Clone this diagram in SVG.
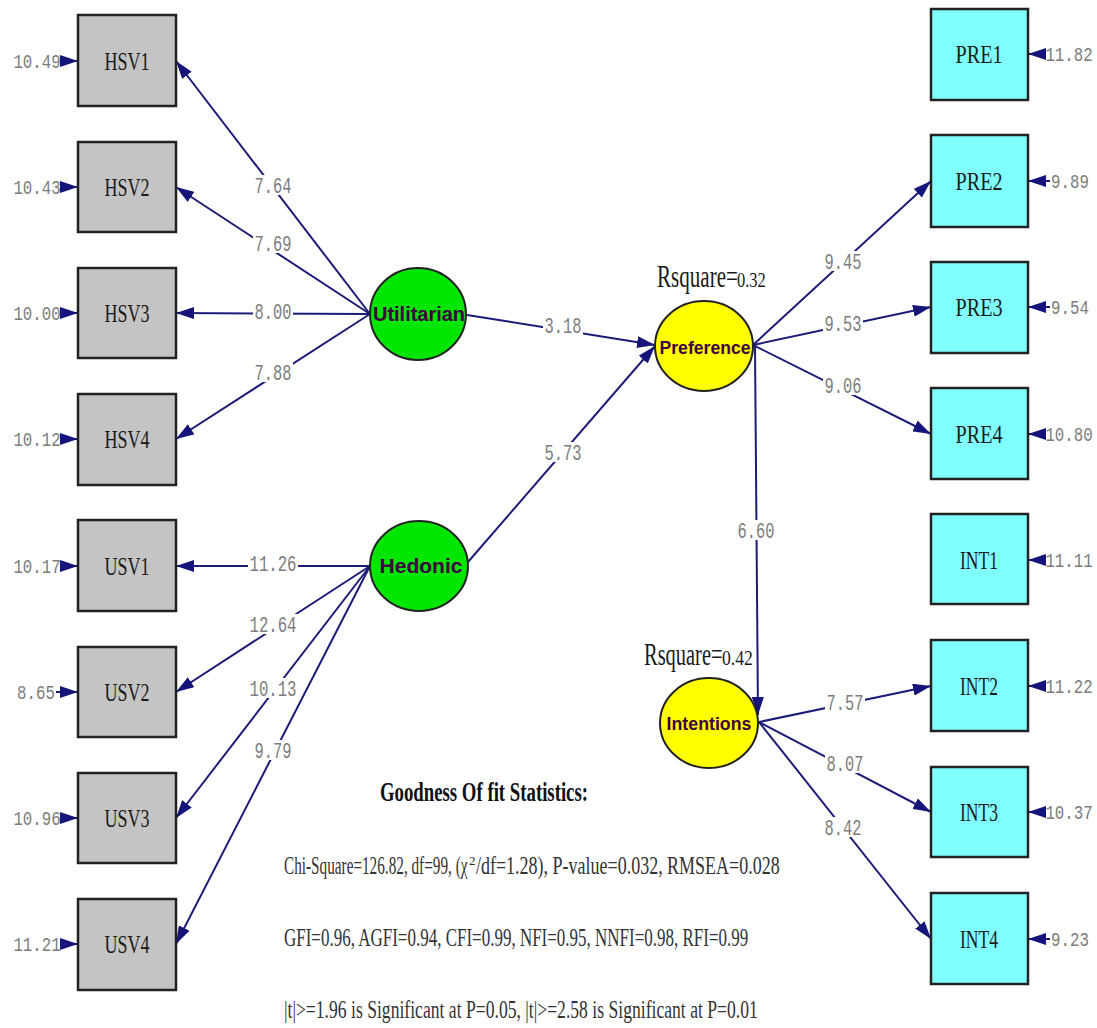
<svg xmlns="http://www.w3.org/2000/svg" width="1097" height="1028" viewBox="0 0 1097 1028">
<defs>
<marker id="ah" viewBox="0 0 18 12" refX="18" refY="6" markerWidth="18" markerHeight="12" markerUnits="userSpaceOnUse" orient="auto"><path d="M0,0 L18,6 L0,12 z" fill="#14147a"/></marker>
<style>
.ln{stroke:#1c1c78;stroke-width:2;fill:none;marker-end:url(#ah)}
.lab{font-family:"Liberation Mono",monospace;font-size:22px;fill:#7c7c7c;text-anchor:middle}
.lbg{fill:#fff}
.err{font-family:"Liberation Mono",monospace;font-size:21px;fill:#7c7c7c;text-anchor:middle;transform:scaleX(0.75);transform-box:fill-box;transform-origin:50% 50%}
.bx{stroke:#222;stroke-width:2.5}
.gray{fill:#c4c4c4}
.cyan{fill:#80ffff}
.bt{font-family:"Liberation Serif",serif;font-size:26px;fill:#1a1a1a;text-anchor:middle}
.lv{stroke:#222;stroke-width:2}
.green{fill:#00e600}
.yellow{fill:#ffff00}
.lt{font-family:"Liberation Sans",Arial,sans-serif;font-weight:bold;fill:#3e0040;text-anchor:middle}
.rs{font-family:"Liberation Serif",serif;fill:#1a1a1a;transform-box:fill-box;transform-origin:0 50%}
.st{font-family:"Liberation Serif",serif;font-size:25px;fill:#333}
</style>
</defs>
<rect width="1097" height="1028" fill="#fff"/>

<g id="connectors">
<line class="ln" x1="370" y1="314" x2="176" y2="61"/>
<line class="ln" x1="370" y1="314" x2="176" y2="187"/>
<line class="ln" x1="370" y1="314" x2="176" y2="313"/>
<line class="ln" x1="370" y1="314" x2="176" y2="439"/>
<line class="ln" x1="370" y1="566" x2="176" y2="566"/>
<line class="ln" x1="370" y1="566" x2="176" y2="692"/>
<line class="ln" x1="370" y1="566" x2="176" y2="818"/>
<line class="ln" x1="370" y1="566" x2="176" y2="944"/>
<line class="ln" x1="467" y1="315" x2="655" y2="345"/>
<line class="ln" x1="468" y1="562" x2="655" y2="346"/>
<line class="ln" x1="755" y1="346" x2="758" y2="715"/>
<line class="ln" x1="753" y1="345" x2="931" y2="181"/>
<line class="ln" x1="753" y1="345" x2="931" y2="307"/>
<line class="ln" x1="753" y1="345" x2="931" y2="434"/>
<line class="ln" x1="759" y1="722" x2="931" y2="686"/>
<line class="ln" x1="759" y1="722" x2="931" y2="812"/>
<line class="ln" x1="759" y1="722" x2="931" y2="939"/>
<line class="ln" x1="62" y1="61" x2="78" y2="61"/>
<line class="ln" x1="62" y1="187" x2="78" y2="187"/>
<line class="ln" x1="62" y1="313" x2="78" y2="313"/>
<line class="ln" x1="62" y1="439" x2="78" y2="439"/>
<line class="ln" x1="62" y1="566" x2="78" y2="566"/>
<line class="ln" x1="56" y1="692" x2="78" y2="692"/>
<line class="ln" x1="62" y1="818" x2="78" y2="818"/>
<line class="ln" x1="62" y1="944" x2="78" y2="944"/>
<line class="ln" x1="1046" y1="54" x2="1028" y2="54"/>
<line class="ln" x1="1050" y1="181" x2="1028" y2="181"/>
<line class="ln" x1="1050" y1="307" x2="1028" y2="307"/>
<line class="ln" x1="1046" y1="434" x2="1028" y2="434"/>
<line class="ln" x1="1046" y1="560" x2="1028" y2="560"/>
<line class="ln" x1="1046" y1="686" x2="1028" y2="686"/>
<line class="ln" x1="1046" y1="812" x2="1028" y2="812"/>
<line class="ln" x1="1050" y1="939" x2="1028" y2="939"/>
<g class="lbg">
<rect x="253" y="175" width="40" height="20"/>
<rect x="253" y="233" width="40" height="20"/>
<rect x="253" y="301" width="40" height="20"/>
<rect x="253" y="362" width="40" height="20"/>
<rect x="248" y="553" width="50" height="20"/>
<rect x="248" y="614" width="50" height="20"/>
<rect x="248" y="678" width="50" height="20"/>
<rect x="253" y="740" width="40" height="20"/>
<rect x="543" y="315" width="40" height="20"/>
<rect x="543" y="442" width="40" height="20"/>
<rect x="823" y="251" width="40" height="20"/>
<rect x="823" y="313" width="40" height="20"/>
<rect x="823" y="375" width="40" height="20"/>
<rect x="736" y="520" width="40" height="20"/>
<rect x="825" y="692" width="40" height="20"/>
<rect x="825" y="753" width="40" height="20"/>
<rect x="823" y="817" width="40" height="20"/>
</g>
<text class="lab" x="273" y="193" textLength="37" lengthAdjust="spacingAndGlyphs">7.64</text>
<text class="lab" x="273" y="251" textLength="37" lengthAdjust="spacingAndGlyphs">7.69</text>
<text class="lab" x="273" y="319" textLength="37" lengthAdjust="spacingAndGlyphs">8.00</text>
<text class="lab" x="273" y="380" textLength="37" lengthAdjust="spacingAndGlyphs">7.88</text>
<text class="lab" x="273" y="571" textLength="47" lengthAdjust="spacingAndGlyphs">11.26</text>
<text class="lab" x="273" y="632" textLength="47" lengthAdjust="spacingAndGlyphs">12.64</text>
<text class="lab" x="273" y="696" textLength="47" lengthAdjust="spacingAndGlyphs">10.13</text>
<text class="lab" x="273" y="758" textLength="37" lengthAdjust="spacingAndGlyphs">9.79</text>
<text class="lab" x="563" y="333" textLength="37" lengthAdjust="spacingAndGlyphs">3.18</text>
<text class="lab" x="563" y="460" textLength="37" lengthAdjust="spacingAndGlyphs">5.73</text>
<text class="lab" x="843" y="269" textLength="37" lengthAdjust="spacingAndGlyphs">9.45</text>
<text class="lab" x="843" y="331" textLength="37" lengthAdjust="spacingAndGlyphs">9.53</text>
<text class="lab" x="843" y="393" textLength="37" lengthAdjust="spacingAndGlyphs">9.06</text>
<text class="lab" x="756" y="538" textLength="37" lengthAdjust="spacingAndGlyphs">6.60</text>
<text class="lab" x="845" y="710" textLength="37" lengthAdjust="spacingAndGlyphs">7.57</text>
<text class="lab" x="845" y="771" textLength="37" lengthAdjust="spacingAndGlyphs">8.07</text>
<text class="lab" x="843" y="835" textLength="37" lengthAdjust="spacingAndGlyphs">8.42</text>
</g>

<g id="errors">
<text class="err" x="37" y="68">10.49</text>
<text class="err" x="37" y="194">10.43</text>
<text class="err" x="37" y="320">10.00</text>
<text class="err" x="37" y="446">10.12</text>
<text class="err" x="37" y="573">10.17</text>
<text class="err" x="36" y="699">8.65</text>
<text class="err" x="37" y="825">10.96</text>
<text class="err" x="37" y="951">11.21</text>
<text class="err" x="1069" y="61">11.82</text>
<text class="err" x="1070" y="188">9.89</text>
<text class="err" x="1070" y="314">9.54</text>
<text class="err" x="1069" y="441">10.80</text>
<text class="err" x="1069" y="567">11.11</text>
<text class="err" x="1069" y="693">11.22</text>
<text class="err" x="1069" y="819">10.37</text>
<text class="err" x="1070" y="946">9.23</text>
</g>

<g id="HSV1"><rect class="bx gray" x="78" y="15" width="98" height="91"/><text class="bt" x="127" y="70" textLength="45" lengthAdjust="spacingAndGlyphs">HSV1</text></g>
<g id="HSV2"><rect class="bx gray" x="78" y="142" width="98" height="90"/><text class="bt" x="127" y="196" textLength="45" lengthAdjust="spacingAndGlyphs">HSV2</text></g>
<g id="HSV3"><rect class="bx gray" x="78" y="268" width="98" height="90"/><text class="bt" x="127" y="322" textLength="45" lengthAdjust="spacingAndGlyphs">HSV3</text></g>
<g id="HSV4"><rect class="bx gray" x="78" y="394" width="98" height="91"/><text class="bt" x="127" y="448" textLength="45" lengthAdjust="spacingAndGlyphs">HSV4</text></g>
<g id="USV1"><rect class="bx gray" x="78" y="520" width="98" height="91"/><text class="bt" x="127" y="575" textLength="45" lengthAdjust="spacingAndGlyphs">USV1</text></g>
<g id="USV2"><rect class="bx gray" x="78" y="647" width="98" height="90"/><text class="bt" x="127" y="701" textLength="45" lengthAdjust="spacingAndGlyphs">USV2</text></g>
<g id="USV3"><rect class="bx gray" x="78" y="773" width="98" height="90"/><text class="bt" x="127" y="827" textLength="45" lengthAdjust="spacingAndGlyphs">USV3</text></g>
<g id="USV4"><rect class="bx gray" x="78" y="899" width="98" height="91"/><text class="bt" x="127" y="953" textLength="45" lengthAdjust="spacingAndGlyphs">USV4</text></g>

<g id="PRE1"><rect class="bx cyan" x="931" y="9" width="97" height="91"/><text class="bt" x="979" y="63" textLength="47" lengthAdjust="spacingAndGlyphs">PRE1</text></g>
<g id="PRE2"><rect class="bx cyan" x="931" y="135" width="97" height="92"/><text class="bt" x="979" y="190" textLength="47" lengthAdjust="spacingAndGlyphs">PRE2</text></g>
<g id="PRE3"><rect class="bx cyan" x="931" y="262" width="97" height="91"/><text class="bt" x="979" y="316" textLength="47" lengthAdjust="spacingAndGlyphs">PRE3</text></g>
<g id="PRE4"><rect class="bx cyan" x="931" y="388" width="97" height="91"/><text class="bt" x="979" y="443" textLength="47" lengthAdjust="spacingAndGlyphs">PRE4</text></g>
<g id="INT1"><rect class="bx cyan" x="931" y="514" width="97" height="90"/><text class="bt" x="979" y="569" textLength="38" lengthAdjust="spacingAndGlyphs">INT1</text></g>
<g id="INT2"><rect class="bx cyan" x="931" y="640" width="97" height="91"/><text class="bt" x="979" y="695" textLength="38" lengthAdjust="spacingAndGlyphs">INT2</text></g>
<g id="INT3"><rect class="bx cyan" x="931" y="767" width="97" height="90"/><text class="bt" x="979" y="821" textLength="38" lengthAdjust="spacingAndGlyphs">INT3</text></g>
<g id="INT4"><rect class="bx cyan" x="931" y="893" width="97" height="91"/><text class="bt" x="979" y="948" textLength="38" lengthAdjust="spacingAndGlyphs">INT4</text></g>

<g id="Utilitarian"><ellipse class="lv green" cx="418" cy="314" rx="48" ry="46"/><text class="lt" x="419" y="321" font-size="20" textLength="92" lengthAdjust="spacingAndGlyphs">Utilitarian</text></g>
<g id="Hedonic"><ellipse class="lv green" cx="419" cy="566" rx="49" ry="45"/><text class="lt" x="421" y="573" font-size="21" textLength="83" lengthAdjust="spacingAndGlyphs">Hedonic</text></g>
<g id="Preference"><ellipse class="lv yellow" cx="704" cy="346" rx="49" ry="45"/><text class="lt" x="705" y="354" font-size="18" textLength="91" lengthAdjust="spacingAndGlyphs">Preference</text></g>
<g id="Rsquare-Preference"><text class="rs" x="657" y="287" style="font-size:31px;transform:scaleX(0.68)">Rsquare=</text><text class="rs" x="737" y="287" style="font-size:22px;transform:scaleX(0.75)">0.32</text></g>
<g id="Intentions"><ellipse class="lv yellow" cx="709" cy="723" rx="49" ry="45"/><text class="lt" x="709" y="730" font-size="18" textLength="85" lengthAdjust="spacingAndGlyphs">Intentions</text></g>
<g id="Rsquare-Intentions"><text class="rs" x="644" y="665" style="font-size:31px;transform:scaleX(0.66)">Rsquare=</text><text class="rs" x="722" y="665" style="font-size:22px;transform:scaleX(0.8)">0.42</text></g>

<g id="fit-statistics">
<text x="380" y="801" font-family="Liberation Serif, serif" font-weight="bold" font-size="27" fill="#111" textLength="208" lengthAdjust="spacingAndGlyphs">Goodness Of fit Statistics:</text>
<text class="st" transform="translate(284,874) scale(0.61,1)">Chi-Square=126.82, df=99, (χ</text>
<text class="st" x="469" y="865" style="font-size:13px">2</text>
<text class="st" transform="translate(476,874) scale(0.72,1)">/df=1.28), P-value=0.032, RMSEA=0.028</text>
<text class="st" transform="translate(284,946) scale(0.68,1)">GFI=0.96, AGFI=0.94, CFI=0.99, NFI=0.95, NNFI=0.98, RFI=0.99</text>
<text class="st" transform="translate(284,1018) scale(0.705,1)">|t|&gt;=1.96 is Significant at P=0.05, |t|&gt;=2.58 is Significant at P=0.01</text>
</g>
</svg>
